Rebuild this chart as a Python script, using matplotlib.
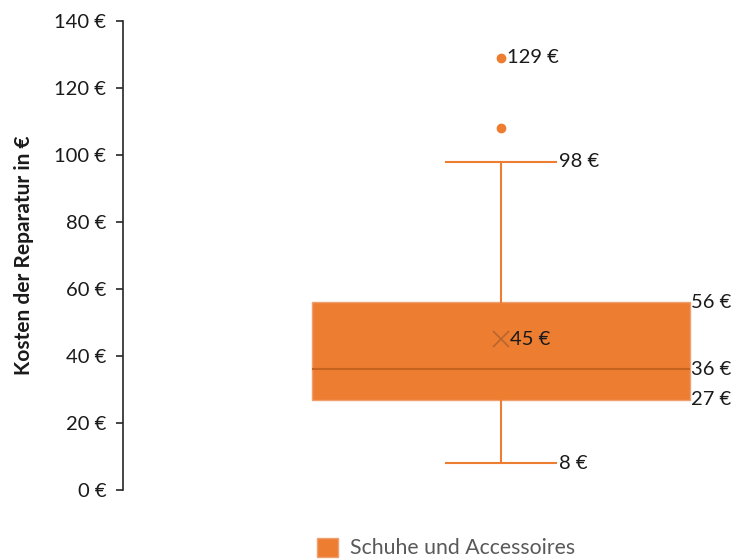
import matplotlib.pyplot as plt
from matplotlib.patches import Patch

plt.rcParams['font.family'] = ['Lato', 'DejaVu Sans']

# Kennzahlen der Reparaturkosten (Schuhe und Accessoires)
category = 'Schuhe und Accessoires'
q1, median, q3 = 27, 36, 56
whisker_low, whisker_high = 8, 98
mean_cost = 45
outliers = [108, 129]
labelled_outliers = [129]
y_ticks = [0, 20, 40, 60, 80, 100, 120, 140]

orange = '#ED7D31'
dark_orange = '#C5631F'
text_col = '#1a1a1a'
fs = 14.5

fig = plt.figure(figsize=(7.36, 5.6), dpi=100)
ax = fig.add_axes([123 / 736, 70 / 560, 613 / 736, 469 / 560])

stats = [{
    'med': median, 'q1': q1, 'q3': q3,
    'whislo': whisker_low, 'whishi': whisker_high,
    'mean': mean_cost, 'fliers': outliers, 'label': category,
}]
ax.bxp(stats, positions=[1], widths=0.6, capwidths=0.175,
       patch_artist=True, showmeans=True, manage_ticks=False,
       boxprops=dict(facecolor=orange, edgecolor='#F0A070', linewidth=1),
       medianprops=dict(color=dark_orange, linewidth=1.5),
       whiskerprops=dict(color=orange, linewidth=1.5),
       capprops=dict(color=orange, linewidth=1.5),
       meanprops=dict(marker='x', markeredgecolor='#B8652F',
                      markersize=11, markeredgewidth=1.2),
       flierprops=dict(marker='o', markerfacecolor=orange,
                       markeredgecolor=orange, markersize=6))

# Datenbeschriftungen
lbl = dict(fontsize=fs, color=text_col, va='center', ha='left')
for v in (q3, median, q1):
    ax.text(1 + 0.3 + 0.002, v, f'{v} €', **lbl)
for v in (whisker_low, whisker_high):
    ax.text(1 + 0.0875 + 0.004, v, f'{v} €', **lbl)
ax.text(1 + 0.014, mean_cost, f'{mean_cost} €', **lbl)
for v in labelled_outliers:
    ax.text(1 + 0.009, v, f'{v} €', **lbl)

ax.set_xlim(0.4, 1.373)
ax.set_ylim(0, 140)
ax.set_yticks(y_ticks)
ax.set_yticklabels([f'{t} €' for t in y_ticks], fontsize=fs, color=text_col)
ax.set_xticks([])
for side in ('top', 'right', 'bottom'):
    ax.spines[side].set_visible(False)
ax.spines['left'].set_color('#262626')
ax.spines['left'].set_linewidth(1.2)
ax.tick_params(axis='y', direction='out', length=5, width=1.2,
               color='#262626', pad=7)
ax.set_ylabel('Kosten der Reparatur in €', fontsize=15, fontweight='bold',
              color=text_col, labelpad=15)

fig.legend(handles=[Patch(facecolor=orange, edgecolor='#F0A070')],
           labels=[category], loc='center', bbox_to_anchor=(446 / 736, 1 - 548 / 560),
           frameon=False, fontsize=15.3, labelcolor='#595959',
           handlelength=1.0, handleheight=1.0, handletextpad=0.55)

fig.savefig('out.png', dpi=100)
